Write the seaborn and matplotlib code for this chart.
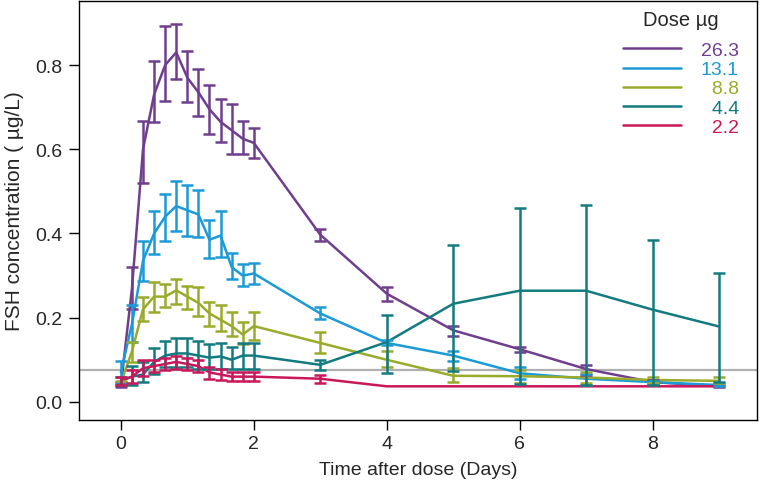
import numpy as np
import pandas as pd
import seaborn as sns
import matplotlib.pyplot as plt
from matplotlib.lines import Line2D

# Sampling times (days after dose)
times = [0, 0.167, 0.333, 0.5, 0.667, 0.833, 1.0, 1.167, 1.333, 1.5,
         1.667, 1.833, 2, 3, 4, 5, 6, 7, 8, 9]

doses = ["26.3", "13.1", "8.8", "4.4", "2.2"]
colors = ["#6F3F8E", "#1C9AD6", "#9AAB2B", "#137B80", "#C8185A"]

# Mean FSH (ug/L) and error bar ends per dose
mean_263 = [0.038, 0.27, 0.60, 0.73, 0.80, 0.83, 0.77, 0.735, 0.695, 0.665,
            0.645, 0.625, 0.615, 0.397, 0.257, 0.17, 0.125, 0.078, 0.047, 0.037]
lo_263 = [0.035, 0.22, 0.52, 0.665, 0.715, 0.767, 0.711, 0.678, 0.636, 0.616,
          0.589, 0.589, 0.578, 0.383, 0.240, 0.157, 0.118, 0.065, 0.043, 0.035]
hi_263 = [0.045, 0.32, 0.667, 0.81, 0.893, 0.897, 0.834, 0.79, 0.752, 0.719,
          0.707, 0.668, 0.65, 0.41, 0.274, 0.181, 0.131, 0.088, 0.052, 0.04]

mean_131 = [0.07, 0.185, 0.335, 0.40, 0.44, 0.465, 0.455, 0.445, 0.385, 0.395,
            0.32, 0.30, 0.305, 0.21, 0.14, 0.11, 0.068, 0.055, 0.047, 0.04]
lo_131 = [0.047, 0.142, 0.288, 0.351, 0.383, 0.407, 0.393, 0.391, 0.341, 0.343,
          0.292, 0.276, 0.28, 0.197, 0.135, 0.098, 0.055, 0.039, 0.045, 0.038]
hi_131 = [0.098, 0.229, 0.383, 0.454, 0.494, 0.524, 0.515, 0.502, 0.432, 0.454,
          0.354, 0.328, 0.329, 0.226, 0.147, 0.122, 0.082, 0.066, 0.05, 0.045]

mean_88 = [0.045, 0.12, 0.22, 0.25, 0.25, 0.265, 0.25, 0.235, 0.21, 0.195,
           0.18, 0.16, 0.18, 0.14, 0.10, 0.062, 0.061, 0.058, 0.052, 0.05]
lo_88 = [0.04, 0.095, 0.193, 0.213, 0.225, 0.233, 0.221, 0.205, 0.181, 0.169,
         0.157, 0.138, 0.146, 0.116, 0.082, 0.047, 0.045, 0.045, 0.045, 0.045]
hi_88 = [0.05, 0.142, 0.249, 0.284, 0.28, 0.292, 0.276, 0.272, 0.237, 0.229,
         0.213, 0.189, 0.213, 0.165, 0.122, 0.08, 0.075, 0.07, 0.06, 0.06]

mean_44 = [0.05, 0.06, 0.065, 0.095, 0.11, 0.115, 0.115, 0.11, 0.105, 0.108,
           0.10, 0.11, 0.11, 0.088, 0.142, 0.233, 0.264, 0.264, 0.219, 0.179]
lo_44 = [0.04, 0.039, 0.047, 0.066, 0.082, 0.082, 0.082, 0.078, 0.078, 0.078,
         0.078, 0.078, 0.078, 0.075, 0.069, 0.074, 0.043, 0.04, 0.04, 0.047]
hi_44 = [0.06, 0.086, 0.095, 0.128, 0.144, 0.151, 0.151, 0.144, 0.138, 0.14,
         0.131, 0.14, 0.14, 0.10, 0.207, 0.373, 0.461, 0.468, 0.385, 0.307]

mean_22 = [0.05, 0.06, 0.08, 0.085, 0.09, 0.095, 0.09, 0.085, 0.07, 0.065,
           0.06, 0.06, 0.06, 0.055, 0.037, 0.037, 0.037, 0.037, 0.037, 0.037]
lo_22 = [0.04, 0.045, 0.062, 0.07, 0.075, 0.078, 0.075, 0.072, 0.055, 0.052,
         0.05, 0.05, 0.05, 0.045, np.nan, np.nan, np.nan, np.nan, np.nan, np.nan]
hi_22 = [0.06, 0.075, 0.1, 0.1, 0.105, 0.11, 0.105, 0.1, 0.083, 0.078,
         0.07, 0.07, 0.07, 0.065, np.nan, np.nan, np.nan, np.nan, np.nan, np.nan]

lloq = 0.075

means = [mean_263, mean_131, mean_88, mean_44, mean_22]
lows = [lo_263, lo_131, lo_88, lo_44, lo_22]
highs = [hi_263, hi_131, hi_88, hi_44, hi_22]

frames = []
for d, m, lo, hi in zip(doses, means, lows, highs):
    frames.append(pd.DataFrame({"time": times, "fsh": m, "lo": lo, "hi": hi, "dose": d}))
df = pd.concat(frames, ignore_index=True)

sns.set_style("ticks")
plt.rcParams["font.family"] = ["Liberation Sans", "DejaVu Sans"]

fig = plt.figure(figsize=(7.65, 4.85), dpi=100)
ax = fig.add_axes([79 / 765, 1 - 421 / 485, 678 / 765, 419 / 485])

ax.axhline(lloq, color="#B0B0B0", lw=1.6, zorder=1)

palette = dict(zip(doses, colors))
sns.lineplot(data=df, x="time", y="fsh", hue="dose", hue_order=doses,
             palette=palette, lw=1.8, legend=False, errorbar=None, ax=ax)

for d in doses:
    sub = df[df["dose"] == d]
    yerr = [sub["fsh"] - sub["lo"], sub["hi"] - sub["fsh"]]
    ax.errorbar(sub["time"], sub["fsh"], yerr=yerr, fmt="none", ecolor=palette[d],
                elinewidth=1.8, capsize=4.5, capthick=1.8)

ax.set_xlim(-0.63, 9.57)
ax.set_ylim(-0.043, 0.952)
ax.set_xticks([0, 2, 4, 6, 8])
ax.set_yticks([0.0, 0.2, 0.4, 0.6, 0.8])
ax.set_yticklabels(["0.0", "0.2", "0.4", "0.6", "0.8"])
ax.tick_params(axis="both", length=7, width=1, color="black", labelsize=14)
ax.tick_params(axis="x", pad=4)
ax.tick_params(axis="y", pad=5)
for s in ax.spines.values():
    s.set_color("black")
    s.set_linewidth(1)

ax.set_xlabel("Time after dose (Days)", fontsize=14, labelpad=6)
ax.set_ylabel("FSH concentration ( µg/L)", fontsize=15, labelpad=8)

# legend with right-aligned coloured labels
handles = [Line2D([], [], color=c, lw=1.8) for c in colors]
labels = [d.rjust(4, "\u2007") for d in doses]
leg = ax.legend(handles, labels, title="Dose µg", loc="upper right",
                bbox_to_anchor=(0.985, 0.997), borderaxespad=0, frameon=False,
                fontsize=14, title_fontsize=14.5, handlelength=3.0,
                handletextpad=1.0, labelspacing=0.08)
for t, c in zip(leg.get_texts(), colors):
    t.set_color(c)
leg._legend_box.sep = 9

fig.savefig("out.png", dpi=100)
